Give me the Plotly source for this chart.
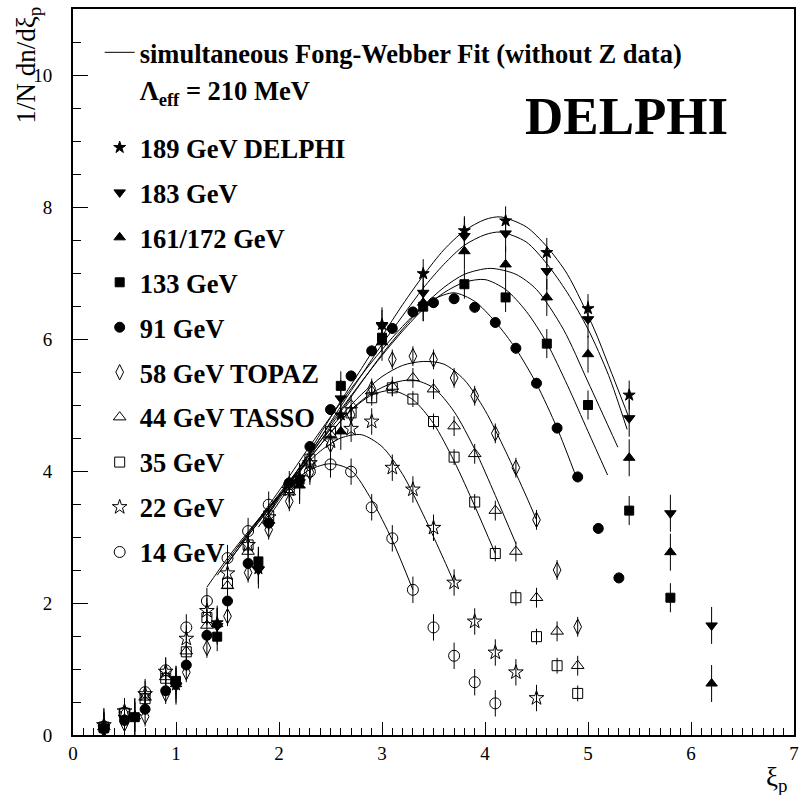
import plotly.graph_objects as go

# ---------------- data ----------------
x_lep2 = [0.3, 0.6, 1.0, 1.4, 1.8, 2.2, 2.6, 3.0, 3.4, 3.8, 4.2, 4.6, 5.0, 5.4, 5.8, 6.2]
x_low = [0.3, 0.5, 0.7, 0.9, 1.1, 1.3, 1.5, 1.7, 1.9, 2.1, 2.3, 2.5, 2.7, 2.9, 3.1,
         3.3, 3.5, 3.7, 3.9, 4.1, 4.3, 4.5, 4.7, 4.9, 5.1, 5.3]

y_189 = [0.12, 0.28, 0.76, 1.70, 2.52, 3.90, 4.85, 6.22, 6.99, 7.64, 7.79, 7.31, 6.46, 5.15]
y_183 = [0.11, 0.27, 0.74, 1.65, 2.50, 3.83, 5.10, 6.20, 6.70, 7.56, 7.60, 7.03, 6.30, 4.80, 3.36, 1.66]
y_161 = [0.13, 0.28, 0.77, 1.68, 2.57, 3.78, 4.60, 5.95, 6.55, 7.33, 7.13, 6.63, 5.77, 4.20, 2.77, 0.78]
y_133 = [0.10, 0.27, 0.82, 1.49, 2.63, 3.87, 5.29, 6.02, 6.49, 6.83, 6.63, 5.93, 5.00, 3.40, 2.08]
y_91 = [0.10, 0.22, 0.39, 0.67, 1.06, 1.51, 2.03, 2.60, 3.21, 3.82, 4.37, 4.93, 5.44, 5.82, 6.16,
        6.41, 6.55, 6.61, 6.48, 6.25, 5.86, 5.33, 4.65, 3.91, 3.13, 2.38]
y_58 = [0.08, 0.17, 0.28, 0.62, 0.95, 1.32, 1.80, 2.46, 3.11, 3.54, 3.98, 4.40, 4.85, 5.25, 5.69,
        5.74, 5.69, 5.41, 5.14, 4.57, 4.05, 3.26, 2.50, 1.64]
y_44 = [0.12, 0.33, 0.57, 0.88, 1.27, 1.66, 2.26, 2.78, 3.25, 3.68, 4.12, 4.55, 5.00, 5.21, 5.28,
        5.41, 5.24, 4.68, 4.26, 3.40, 2.78, 2.08, 1.57, 1.05]
y_35 = [0.12, 0.33, 0.55, 0.86, 1.26, 1.78, 2.30, 2.88, 3.32, 3.75, 4.18, 4.60, 4.88, 5.11, 5.26,
        5.09, 4.75, 4.21, 3.53, 2.75, 2.08, 1.49, 1.05, 0.63]
y_22 = [0.15, 0.36, 0.62, 0.96, 1.46, 1.88, 2.45, 2.88, 3.30, 3.72, 4.12, 4.45, 4.64, 4.75, 4.05,
        3.72, 3.14, 2.31, 1.72, 1.25, 0.95, 0.56]
y_14 = [0.13, 0.34, 0.65, 0.98, 1.63, 2.03, 2.68, 3.09, 3.49, 3.80, 3.99, 4.10, 3.99, 3.45, 2.98,
        2.20, 1.63, 1.20, 0.80, 0.48]

err_189 = 0.22
err_183 = 0.28
err_161 = 0.28
err_133 = 0.22
err_91 = 0.08
err_58 = 0.15
err_44 = 0.15
err_35 = 0.12
err_22 = 0.20
err_14 = 0.20

# Fong-Webber fit curves
fit14_x = [1.3, 1.5, 1.7, 1.9, 2.1, 2.3, 2.5, 2.7, 2.9, 3.1, 3.3]
fit14_y = [2.24, 2.68, 3.08, 3.45, 3.78, 4.02, 4.11, 4.01, 3.56, 2.95, 2.20]
fit22_x = [1.4, 1.6, 1.8, 2.0, 2.2, 2.4, 2.6, 2.8, 3.0, 3.2, 3.4, 3.6, 3.7]
fit22_y = [2.42, 2.85, 3.25, 3.63, 4.00, 4.30, 4.50, 4.55, 4.37, 3.95, 3.34, 2.66, 2.31]
fit35_x = [1.5, 1.7, 1.9, 2.1, 2.3, 2.5, 2.7, 2.9, 3.1, 3.3, 3.5, 3.7, 3.9, 4.1]
fit35_y = [2.60, 3.02, 3.42, 3.82, 4.20, 4.58, 4.92, 5.15, 5.22, 5.08, 4.72, 4.15, 3.47, 2.75]
fit44_x = [1.5, 1.7, 1.9, 2.1, 2.3, 2.5, 2.7, 2.9, 3.1, 3.3, 3.5, 3.7, 3.9, 4.1, 4.3]
fit44_y = [2.60, 3.02, 3.42, 3.82, 4.20, 4.58, 4.93, 5.18, 5.33, 5.38, 5.26, 4.90, 4.33, 3.63, 2.90]
fit58_x = [1.6, 1.8, 2.0, 2.2, 2.4, 2.6, 2.8, 3.0, 3.2, 3.4, 3.6, 3.8, 4.0, 4.2, 4.4, 4.5]
fit58_y = [2.85, 3.25, 3.65, 4.05, 4.45, 4.83, 5.16, 5.43, 5.60, 5.66, 5.62, 5.38, 4.92, 4.30, 3.62, 3.26]
fit91_x = [1.7, 1.9, 2.1, 2.3, 2.5, 2.7, 2.9, 3.1, 3.3, 3.5, 3.7, 3.9, 4.1, 4.3, 4.5, 4.7, 4.9]
fit91_y = [3.05, 3.48, 3.92, 4.38, 4.82, 5.25, 5.65, 6.02, 6.35, 6.60, 6.70, 6.57, 6.26, 5.85, 5.32, 4.65, 3.85]
fit133_x = [1.8, 2.0, 2.2, 2.4, 2.6, 2.8, 3.0, 3.2, 3.4, 3.6, 3.8, 4.0, 4.2, 4.4, 4.6, 4.8, 5.0, 5.19]
fit133_y = [3.15, 3.60, 4.05, 4.50, 4.93, 5.35, 5.75, 6.12, 6.45, 6.70, 6.86, 6.90, 6.75, 6.42, 5.94, 5.30, 4.60, 3.94]
fit161_x = [1.9, 2.2, 2.4, 2.6, 2.8, 3.0, 3.2, 3.4, 3.6, 3.8, 4.05, 4.3, 4.5, 4.76, 5.0, 5.29]
fit161_y = [3.30, 3.98, 4.45, 4.90, 5.34, 5.77, 6.15, 6.50, 6.78, 6.98, 7.07, 6.98, 6.75, 6.15, 5.35, 4.36]
fit183_x = [1.9, 2.2, 2.4, 2.6, 2.8, 3.0, 3.2, 3.4, 3.6, 3.8, 4.0, 4.15, 4.4, 4.6, 4.8, 5.0, 5.2, 5.38]
fit183_y = [3.35, 4.02, 4.50, 4.98, 5.45, 5.92, 6.35, 6.77, 7.13, 7.42, 7.58, 7.62, 7.47, 7.14, 6.70, 6.15, 5.45, 4.63]
fit189_x = [1.9, 2.2, 2.4, 2.6, 2.8, 3.0, 3.2, 3.4, 3.6, 3.8, 4.0, 4.15, 4.4, 4.6, 4.8, 5.06, 5.2, 5.4]
fit189_y = [3.38, 4.06, 4.56, 5.06, 5.55, 6.04, 6.52, 6.96, 7.35, 7.64, 7.81, 7.85, 7.70, 7.40, 6.98, 6.15, 5.60, 4.80]

labels = ["189 GeV DELPHI", "183 GeV", "161/172 GeV", "133 GeV", "91 GeV",
          "58 GeV TOPAZ", "44 GeV TASSO", "35 GeV", "22 GeV", "14 GeV"]
fit_label = "simultaneous Fong-Webber Fit (without Z data)"
lambda_label = "Λ<sub>eff</sub> = 210 MeV"
x_tick_vals = [0, 1, 2, 3, 4, 5, 6, 7]
y_tick_vals = [0, 2, 4, 6, 8, 10]

# ---------------- figure ----------------
FONT = "Liberation Serif, Times New Roman, serif"
fig = go.Figure()

fits = [(fit14_x, fit14_y), (fit22_x, fit22_y), (fit35_x, fit35_y), (fit44_x, fit44_y),
        (fit58_x, fit58_y), (fit91_x, fit91_y), (fit133_x, fit133_y),
        (fit161_x, fit161_y), (fit183_x, fit183_y), (fit189_x, fit189_y)]
for i, (fx, fy) in enumerate(fits):
    fig.add_trace(go.Scatter(
        x=fx, y=fy, mode="lines", line=dict(color="black", width=1, shape="spline", smoothing=0.8),
        name="<b>" + fit_label + "</b>", showlegend=(i == 0), legend="legend",
        legendgroup="fit", hoverinfo="skip"))

fig.add_trace(go.Scatter(
    x=[None], y=[None], mode="markers", marker=dict(size=1, color="rgba(0,0,0,0)"),
    name="<b>" + lambda_label + "</b>", legend="legend", legendgroup="fit", showlegend=True))

series = [
    (x_lep2[:len(y_189)], y_189, err_189, "star", 9),
    (x_lep2[:len(y_183)], y_183, err_183, "triangle-down", 10),
    (x_lep2[:len(y_161)], y_161, err_161, "triangle-up", 10),
    (x_lep2[:len(y_133)], y_133, err_133, "square", 9),
    (x_low[:len(y_91)], y_91, err_91, "circle", 10),
    (x_low[:len(y_58)], y_58, err_58, "diamond-tall-open", 11),
    (x_low[:len(y_44)], y_44, err_44, "triangle-up-open", 11),
    (x_low[:len(y_35)], y_35, err_35, "square-open", 10),
    (x_low[:len(y_22)], y_22, err_22, "star-open", 11),
    (x_low[:len(y_14)], y_14, err_14, "circle-open", 11),
]
for lab, (sx, sy, se, sym, sz) in zip(labels, series):
    fig.add_trace(go.Scatter(
        x=sx, y=sy, mode="markers", name="<b>" + lab + "</b>",
        marker=dict(symbol=sym, size=sz, color="black", line=dict(color="black", width=1)),
        error_y=dict(type="constant", value=se, color="black", thickness=1, width=0),
        legend="legend2", legendgroup=lab))

fig.update_layout(
    width=802, height=795, autosize=False,
    margin=dict(l=73, r=3, t=9, b=60),
    paper_bgcolor="white", plot_bgcolor="white",
    font=dict(family=FONT, color="black", size=19),
    showlegend=True,
    legend=dict(x=0.037, y=0.973, xanchor="left", yanchor="top",
                font=dict(family=FONT, size=26.5, color="black"),
                bgcolor="rgba(0,0,0,0)", tracegroupgap=0, itemwidth=30),
    legend2=dict(x=0.037, y=0.842, xanchor="left", yanchor="top",
                 font=dict(family=FONT, size=26.5, color="black"),
                 bgcolor="rgba(0,0,0,0)", tracegroupgap=7.5, itemwidth=30),
    xaxis=dict(range=[0, 7], showgrid=False, zeroline=False, showline=True, mirror=True,
               linecolor="black", linewidth=2, ticks="inside", ticklen=13, tickwidth=1,
               tickcolor="black", tickvals=x_tick_vals, tickfont=dict(size=19, family=FONT),
               ticklabelstandoff=0,
               minor=dict(dtick=0.1, ticks="inside", ticklen=7, tickcolor="black", tickwidth=1)),
    yaxis=dict(range=[0, 11], showgrid=False, zeroline=False, showline=True, mirror=True,
               linecolor="black", linewidth=2, ticks="inside", ticklen=15, tickwidth=1,
               tickcolor="black", tickvals=y_tick_vals, tickfont=dict(size=19, family=FONT),
               ticklabelstandoff=15,
               minor=dict(dtick=0.5, ticks="inside", ticklen=8, tickcolor="black", tickwidth=1)),
)

fig.add_annotation(text="1/N dn/dξ<sub>p</sub>", xref="paper", yref="paper",
                   x=-0.062, y=1.006, xanchor="center", yanchor="top", textangle=-90,
                   showarrow=False, font=dict(family=FONT, size=27, color="black"))
fig.add_annotation(text="ξ<sub>p</sub>", xref="paper", yref="paper",
                   x=0.976, y=-0.061, xanchor="center", yanchor="middle",
                   showarrow=False, font=dict(family=FONT, size=27, color="black"))
fig.add_annotation(text="<b>DELPHI</b>", xref="paper", yref="paper",
                   x=0.768, y=0.853, xanchor="center", yanchor="middle",
                   showarrow=False, font=dict(family=FONT, size=53, color="black"))

fig.write_html("out.html")
